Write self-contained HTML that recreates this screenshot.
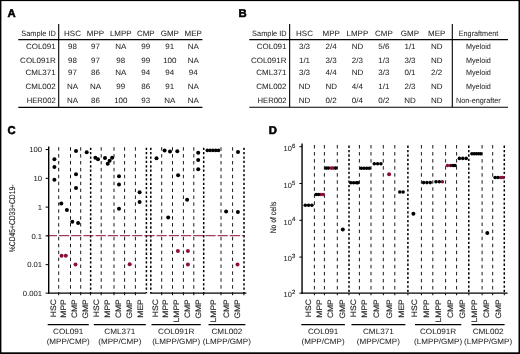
<!DOCTYPE html>
<html><head><meta charset="utf-8"><title>Figure</title>
<style>
html,body{margin:0;padding:0;background:#fff;}
body{width:520px;height:354px;overflow:hidden;position:relative;}
svg{position:absolute;left:0;top:0;display:block;}
svg text{font-family:"Liberation Sans",sans-serif;fill:#242424;stroke:#242424;stroke-width:0.03px;text-rendering:geometricPrecision;}
</style></head><body>
<svg width="520" height="354" viewBox="0 0 520 354">
<rect x="0" y="0" width="520" height="354" fill="#fff"/>
<text x="7.4" y="16.9" text-anchor="start" font-size="11.3" font-weight="bold" style="fill:#000;stroke:#000;stroke-width:0.55px;stroke-linejoin:round">A</text>
<text x="238.6" y="16.8" text-anchor="start" font-size="11.3" font-weight="bold" style="fill:#000;stroke:#000;stroke-width:0.55px;stroke-linejoin:round">B</text>
<text x="7.6" y="133.9" text-anchor="start" font-size="11.3" font-weight="bold" style="fill:#000;stroke:#000;stroke-width:0.55px;stroke-linejoin:round">C</text>
<text x="268.8" y="134.0" text-anchor="start" font-size="11.3" font-weight="bold" style="fill:#000;stroke:#000;stroke-width:0.55px;stroke-linejoin:round">D</text>
<line x1="18.3" y1="39.6" x2="202.4" y2="39.6" stroke="#000" stroke-width="1.1"/>
<line x1="18.3" y1="107.4" x2="202.4" y2="107.4" stroke="#000" stroke-width="1.1"/>
<line x1="58.7" y1="24" x2="58.7" y2="107.4" stroke="#000" stroke-width="1.1"/>
<text x="55.8" y="36.0" text-anchor="end" font-size="7.7" textLength="34.50" lengthAdjust="spacingAndGlyphs">Sample ID</text>
<text x="72.5" y="36.0" text-anchor="middle" font-size="7.7" textLength="16.89" lengthAdjust="spacingAndGlyphs">HSC</text>
<text x="95.5" y="36.0" text-anchor="middle" font-size="7.7" textLength="17.34" lengthAdjust="spacingAndGlyphs">MPP</text>
<text x="120.8" y="36.0" text-anchor="middle" font-size="7.7" textLength="21.79" lengthAdjust="spacingAndGlyphs">LMPP</text>
<text x="145.8" y="36.0" text-anchor="middle" font-size="7.7" textLength="17.78" lengthAdjust="spacingAndGlyphs">CMP</text>
<text x="169.8" y="36.0" text-anchor="middle" font-size="7.7" textLength="18.22" lengthAdjust="spacingAndGlyphs">GMP</text>
<text x="193.2" y="36.0" text-anchor="middle" font-size="7.7" textLength="17.34" lengthAdjust="spacingAndGlyphs">MEP</text>
<text x="55.7" y="48.9" text-anchor="end" font-size="7.7" textLength="29.80" lengthAdjust="spacingAndGlyphs">COL091</text>
<text x="72.5" y="48.9" text-anchor="middle" font-size="7.7" textLength="8.90" lengthAdjust="spacingAndGlyphs">98</text>
<text x="95.5" y="48.9" text-anchor="middle" font-size="7.7" textLength="8.90" lengthAdjust="spacingAndGlyphs">97</text>
<text x="120.8" y="48.9" text-anchor="middle" font-size="7.7" textLength="11.11" lengthAdjust="spacingAndGlyphs">NA</text>
<text x="145.8" y="48.9" text-anchor="middle" font-size="7.7" textLength="8.90" lengthAdjust="spacingAndGlyphs">99</text>
<text x="169.8" y="48.9" text-anchor="middle" font-size="7.7" textLength="8.90" lengthAdjust="spacingAndGlyphs">91</text>
<text x="193.2" y="48.9" text-anchor="middle" font-size="7.7" textLength="11.11" lengthAdjust="spacingAndGlyphs">NA</text>
<text x="55.7" y="62.7" text-anchor="end" font-size="7.7" textLength="35.57" lengthAdjust="spacingAndGlyphs">COL091R</text>
<text x="72.5" y="62.7" text-anchor="middle" font-size="7.7" textLength="8.90" lengthAdjust="spacingAndGlyphs">98</text>
<text x="95.5" y="62.7" text-anchor="middle" font-size="7.7" textLength="8.90" lengthAdjust="spacingAndGlyphs">97</text>
<text x="120.8" y="62.7" text-anchor="middle" font-size="7.7" textLength="8.90" lengthAdjust="spacingAndGlyphs">98</text>
<text x="145.8" y="62.7" text-anchor="middle" font-size="7.7" textLength="8.90" lengthAdjust="spacingAndGlyphs">99</text>
<text x="169.8" y="62.7" text-anchor="middle" font-size="7.7" textLength="13.35" lengthAdjust="spacingAndGlyphs">100</text>
<text x="193.2" y="62.7" text-anchor="middle" font-size="7.7" textLength="11.11" lengthAdjust="spacingAndGlyphs">NA</text>
<text x="55.7" y="74.9" text-anchor="end" font-size="7.7" textLength="30.24" lengthAdjust="spacingAndGlyphs">CML371</text>
<text x="72.5" y="74.9" text-anchor="middle" font-size="7.7" textLength="8.90" lengthAdjust="spacingAndGlyphs">97</text>
<text x="95.5" y="74.9" text-anchor="middle" font-size="7.7" textLength="8.90" lengthAdjust="spacingAndGlyphs">86</text>
<text x="120.8" y="74.9" text-anchor="middle" font-size="7.7" textLength="11.11" lengthAdjust="spacingAndGlyphs">NA</text>
<text x="145.8" y="74.9" text-anchor="middle" font-size="7.7" textLength="8.90" lengthAdjust="spacingAndGlyphs">94</text>
<text x="169.8" y="74.9" text-anchor="middle" font-size="7.7" textLength="8.90" lengthAdjust="spacingAndGlyphs">94</text>
<text x="193.2" y="74.9" text-anchor="middle" font-size="7.7" textLength="8.90" lengthAdjust="spacingAndGlyphs">94</text>
<text x="55.7" y="88.8" text-anchor="end" font-size="7.7" textLength="30.24" lengthAdjust="spacingAndGlyphs">CML002</text>
<text x="72.5" y="88.8" text-anchor="middle" font-size="7.7" textLength="11.11" lengthAdjust="spacingAndGlyphs">NA</text>
<text x="95.5" y="88.8" text-anchor="middle" font-size="7.7" textLength="11.11" lengthAdjust="spacingAndGlyphs">NA</text>
<text x="120.8" y="88.8" text-anchor="middle" font-size="7.7" textLength="8.90" lengthAdjust="spacingAndGlyphs">99</text>
<text x="145.8" y="88.8" text-anchor="middle" font-size="7.7" textLength="8.90" lengthAdjust="spacingAndGlyphs">86</text>
<text x="169.8" y="88.8" text-anchor="middle" font-size="7.7" textLength="8.90" lengthAdjust="spacingAndGlyphs">91</text>
<text x="193.2" y="88.8" text-anchor="middle" font-size="7.7" textLength="11.11" lengthAdjust="spacingAndGlyphs">NA</text>
<text x="55.7" y="102.7" text-anchor="end" font-size="7.7" textLength="29.03" lengthAdjust="spacingAndGlyphs">HER002</text>
<text x="72.5" y="102.7" text-anchor="middle" font-size="7.7" textLength="11.11" lengthAdjust="spacingAndGlyphs">NA</text>
<text x="95.5" y="102.7" text-anchor="middle" font-size="7.7" textLength="8.90" lengthAdjust="spacingAndGlyphs">86</text>
<text x="120.8" y="102.7" text-anchor="middle" font-size="7.7" textLength="13.35" lengthAdjust="spacingAndGlyphs">100</text>
<text x="145.8" y="102.7" text-anchor="middle" font-size="7.7" textLength="8.90" lengthAdjust="spacingAndGlyphs">93</text>
<text x="169.8" y="102.7" text-anchor="middle" font-size="7.7" textLength="11.11" lengthAdjust="spacingAndGlyphs">NA</text>
<text x="193.2" y="102.7" text-anchor="middle" font-size="7.7" textLength="11.11" lengthAdjust="spacingAndGlyphs">NA</text>
<line x1="249.3" y1="39.6" x2="508" y2="39.6" stroke="#000" stroke-width="1.1"/>
<line x1="249.3" y1="107.3" x2="508" y2="107.3" stroke="#000" stroke-width="1.1"/>
<line x1="289.65" y1="24" x2="289.65" y2="107.3" stroke="#000" stroke-width="1.1"/>
<line x1="452.3" y1="24" x2="452.3" y2="107.3" stroke="#000" stroke-width="1.1"/>
<text x="286.6" y="36.0" text-anchor="end" font-size="7.7" textLength="34.50" lengthAdjust="spacingAndGlyphs">Sample ID</text>
<text x="304.5" y="36.0" text-anchor="middle" font-size="7.7" textLength="16.89" lengthAdjust="spacingAndGlyphs">HSC</text>
<text x="331.2" y="36.0" text-anchor="middle" font-size="7.7" textLength="17.34" lengthAdjust="spacingAndGlyphs">MPP</text>
<text x="357.4" y="36.0" text-anchor="middle" font-size="7.7" textLength="21.79" lengthAdjust="spacingAndGlyphs">LMPP</text>
<text x="383.9" y="36.0" text-anchor="middle" font-size="7.7" textLength="17.78" lengthAdjust="spacingAndGlyphs">CMP</text>
<text x="410.0" y="36.0" text-anchor="middle" font-size="7.7" textLength="18.22" lengthAdjust="spacingAndGlyphs">GMP</text>
<text x="436.7" y="36.0" text-anchor="middle" font-size="7.7" textLength="17.34" lengthAdjust="spacingAndGlyphs">MEP</text>
<text x="478.5" y="36.0" text-anchor="middle" font-size="7.7" textLength="39.44" lengthAdjust="spacingAndGlyphs">Engraftment</text>
<text x="286.5" y="48.9" text-anchor="end" font-size="7.7" textLength="29.80" lengthAdjust="spacingAndGlyphs">COL091</text>
<text x="304.5" y="48.9" text-anchor="middle" font-size="7.7" textLength="11.12" lengthAdjust="spacingAndGlyphs">3/3</text>
<text x="331.2" y="48.9" text-anchor="middle" font-size="7.7" textLength="11.12" lengthAdjust="spacingAndGlyphs">2/4</text>
<text x="357.4" y="48.9" text-anchor="middle" font-size="7.7" textLength="11.55" lengthAdjust="spacingAndGlyphs">ND</text>
<text x="383.9" y="48.9" text-anchor="middle" font-size="7.7" textLength="11.12" lengthAdjust="spacingAndGlyphs">5/6</text>
<text x="410.0" y="48.9" text-anchor="middle" font-size="7.7" textLength="11.12" lengthAdjust="spacingAndGlyphs">1/1</text>
<text x="436.7" y="48.9" text-anchor="middle" font-size="7.7" textLength="11.55" lengthAdjust="spacingAndGlyphs">ND</text>
<text x="478.4" y="48.9" text-anchor="middle" font-size="7.7" textLength="24.95" lengthAdjust="spacingAndGlyphs">Myeloid</text>
<text x="286.5" y="62.7" text-anchor="end" font-size="7.7" textLength="35.57" lengthAdjust="spacingAndGlyphs">COL091R</text>
<text x="304.5" y="62.7" text-anchor="middle" font-size="7.7" textLength="11.12" lengthAdjust="spacingAndGlyphs">1/1</text>
<text x="331.2" y="62.7" text-anchor="middle" font-size="7.7" textLength="11.12" lengthAdjust="spacingAndGlyphs">3/3</text>
<text x="357.4" y="62.7" text-anchor="middle" font-size="7.7" textLength="11.12" lengthAdjust="spacingAndGlyphs">2/3</text>
<text x="383.9" y="62.7" text-anchor="middle" font-size="7.7" textLength="11.12" lengthAdjust="spacingAndGlyphs">1/3</text>
<text x="410.0" y="62.7" text-anchor="middle" font-size="7.7" textLength="11.12" lengthAdjust="spacingAndGlyphs">3/3</text>
<text x="436.7" y="62.7" text-anchor="middle" font-size="7.7" textLength="11.55" lengthAdjust="spacingAndGlyphs">ND</text>
<text x="478.4" y="62.7" text-anchor="middle" font-size="7.7" textLength="24.95" lengthAdjust="spacingAndGlyphs">Myeloid</text>
<text x="286.5" y="74.9" text-anchor="end" font-size="7.7" textLength="30.24" lengthAdjust="spacingAndGlyphs">CML371</text>
<text x="304.5" y="74.9" text-anchor="middle" font-size="7.7" textLength="11.12" lengthAdjust="spacingAndGlyphs">3/3</text>
<text x="331.2" y="74.9" text-anchor="middle" font-size="7.7" textLength="11.12" lengthAdjust="spacingAndGlyphs">4/4</text>
<text x="357.4" y="74.9" text-anchor="middle" font-size="7.7" textLength="11.55" lengthAdjust="spacingAndGlyphs">ND</text>
<text x="383.9" y="74.9" text-anchor="middle" font-size="7.7" textLength="11.12" lengthAdjust="spacingAndGlyphs">3/3</text>
<text x="410.0" y="74.9" text-anchor="middle" font-size="7.7" textLength="11.12" lengthAdjust="spacingAndGlyphs">0/1</text>
<text x="436.7" y="74.9" text-anchor="middle" font-size="7.7" textLength="11.12" lengthAdjust="spacingAndGlyphs">2/2</text>
<text x="478.4" y="74.9" text-anchor="middle" font-size="7.7" textLength="24.95" lengthAdjust="spacingAndGlyphs">Myeloid</text>
<text x="286.5" y="88.8" text-anchor="end" font-size="7.7" textLength="30.24" lengthAdjust="spacingAndGlyphs">CML002</text>
<text x="304.5" y="88.8" text-anchor="middle" font-size="7.7" textLength="11.55" lengthAdjust="spacingAndGlyphs">ND</text>
<text x="331.2" y="88.8" text-anchor="middle" font-size="7.7" textLength="11.55" lengthAdjust="spacingAndGlyphs">ND</text>
<text x="357.4" y="88.8" text-anchor="middle" font-size="7.7" textLength="11.12" lengthAdjust="spacingAndGlyphs">4/4</text>
<text x="383.9" y="88.8" text-anchor="middle" font-size="7.7" textLength="11.12" lengthAdjust="spacingAndGlyphs">1/1</text>
<text x="410.0" y="88.8" text-anchor="middle" font-size="7.7" textLength="11.12" lengthAdjust="spacingAndGlyphs">2/3</text>
<text x="436.7" y="88.8" text-anchor="middle" font-size="7.7" textLength="11.55" lengthAdjust="spacingAndGlyphs">ND</text>
<text x="478.4" y="88.8" text-anchor="middle" font-size="7.7" textLength="24.95" lengthAdjust="spacingAndGlyphs">Myeloid</text>
<text x="286.5" y="102.7" text-anchor="end" font-size="7.7" textLength="29.03" lengthAdjust="spacingAndGlyphs">HER002</text>
<text x="304.5" y="102.7" text-anchor="middle" font-size="7.7" textLength="11.55" lengthAdjust="spacingAndGlyphs">ND</text>
<text x="331.2" y="102.7" text-anchor="middle" font-size="7.7" textLength="11.12" lengthAdjust="spacingAndGlyphs">0/2</text>
<text x="357.4" y="102.7" text-anchor="middle" font-size="7.7" textLength="11.12" lengthAdjust="spacingAndGlyphs">0/4</text>
<text x="383.9" y="102.7" text-anchor="middle" font-size="7.7" textLength="11.12" lengthAdjust="spacingAndGlyphs">0/2</text>
<text x="410.0" y="102.7" text-anchor="middle" font-size="7.7" textLength="11.55" lengthAdjust="spacingAndGlyphs">ND</text>
<text x="436.7" y="102.7" text-anchor="middle" font-size="7.7" textLength="11.55" lengthAdjust="spacingAndGlyphs">ND</text>
<text x="478.4" y="102.7" text-anchor="middle" font-size="7.7" textLength="44.67" lengthAdjust="spacingAndGlyphs">Non-engrafter</text>
<line x1="58.7" y1="147.2" x2="58.7" y2="293.15" stroke="#000" stroke-width="0.9" stroke-dasharray="3.45 3.45"/>
<line x1="70.5" y1="147.2" x2="70.5" y2="293.15" stroke="#000" stroke-width="0.9" stroke-dasharray="3.45 3.45"/>
<line x1="80.7" y1="147.2" x2="80.7" y2="293.15" stroke="#000" stroke-width="0.9" stroke-dasharray="3.45 3.45"/>
<line x1="101.2" y1="147.2" x2="101.2" y2="293.15" stroke="#000" stroke-width="0.9" stroke-dasharray="3.45 3.45"/>
<line x1="114.0" y1="147.2" x2="114.0" y2="293.15" stroke="#000" stroke-width="0.9" stroke-dasharray="3.45 3.45"/>
<line x1="124.6" y1="147.2" x2="124.6" y2="293.15" stroke="#000" stroke-width="0.9" stroke-dasharray="3.45 3.45"/>
<line x1="135.4" y1="147.2" x2="135.4" y2="293.15" stroke="#000" stroke-width="0.9" stroke-dasharray="3.45 3.45"/>
<line x1="161.7" y1="147.2" x2="161.7" y2="293.15" stroke="#000" stroke-width="0.9" stroke-dasharray="3.45 3.45"/>
<line x1="172.5" y1="147.2" x2="172.5" y2="293.15" stroke="#000" stroke-width="0.9" stroke-dasharray="3.45 3.45"/>
<line x1="183.4" y1="147.2" x2="183.4" y2="293.15" stroke="#000" stroke-width="0.9" stroke-dasharray="3.45 3.45"/>
<line x1="193.8" y1="147.2" x2="193.8" y2="293.15" stroke="#000" stroke-width="0.9" stroke-dasharray="3.45 3.45"/>
<line x1="221.0" y1="147.2" x2="221.0" y2="293.15" stroke="#000" stroke-width="0.9" stroke-dasharray="3.45 3.45"/>
<line x1="232.6" y1="147.2" x2="232.6" y2="293.15" stroke="#000" stroke-width="0.9" stroke-dasharray="3.45 3.45"/>
<line x1="90.65" y1="147.7" x2="90.65" y2="293.15" stroke="#000" stroke-width="1.5" stroke-dasharray="2.3 2.07"/>
<line x1="146.4" y1="147.7" x2="146.4" y2="293.15" stroke="#000" stroke-width="1.5" stroke-dasharray="2.3 2.07"/>
<line x1="150.8" y1="147.7" x2="150.8" y2="293.15" stroke="#000" stroke-width="1.5" stroke-dasharray="2.3 2.07"/>
<line x1="203.7" y1="147.7" x2="203.7" y2="293.15" stroke="#000" stroke-width="1.5" stroke-dasharray="2.3 2.07"/>
<line x1="244.0" y1="147.7" x2="244.0" y2="293.15" stroke="#000" stroke-width="1.5" stroke-dasharray="2.3 2.07"/>
<line x1="46.8" y1="235.7" x2="244.7" y2="235.7" stroke="#8c0f35" stroke-width="1.0" stroke-dasharray="10.2 2.0"/>
<line x1="48.7" y1="146.6" x2="48.7" y2="293.84999999999997" stroke="#000" stroke-width="1.4"/>
<line x1="48.1" y1="293.15" x2="146.0" y2="293.15" stroke="#000" stroke-width="1.4"/>
<line x1="150.2" y1="293.15" x2="246.4" y2="293.15" stroke="#000" stroke-width="1.4"/>
<line x1="45.6" y1="149.55" x2="48.7" y2="149.55" stroke="#000" stroke-width="1.0"/>
<text x="42.1" y="152.25" text-anchor="end" font-size="7.4" textLength="12.81" lengthAdjust="spacingAndGlyphs">100</text>
<line x1="45.6" y1="178.33" x2="48.7" y2="178.33" stroke="#000" stroke-width="1.0"/>
<text x="42.1" y="181.03" text-anchor="end" font-size="7.4" textLength="8.54" lengthAdjust="spacingAndGlyphs">10</text>
<line x1="45.6" y1="207.11" x2="48.7" y2="207.11" stroke="#000" stroke-width="1.0"/>
<text x="42.1" y="209.81" text-anchor="end" font-size="7.4" textLength="4.27" lengthAdjust="spacingAndGlyphs">1</text>
<line x1="45.6" y1="235.89000000000001" x2="48.7" y2="235.89000000000001" stroke="#000" stroke-width="1.0"/>
<text x="42.1" y="238.59" text-anchor="end" font-size="7.4" textLength="10.68" lengthAdjust="spacingAndGlyphs">0.1</text>
<line x1="45.6" y1="264.67" x2="48.7" y2="264.67" stroke="#000" stroke-width="1.0"/>
<text x="42.1" y="267.37" text-anchor="end" font-size="7.4" textLength="14.95" lengthAdjust="spacingAndGlyphs">0.01</text>
<line x1="45.6" y1="293.15" x2="48.7" y2="293.15" stroke="#000" stroke-width="1.0"/>
<text x="42.1" y="295.84999999999997" text-anchor="end" font-size="7.4" textLength="19.22" lengthAdjust="spacingAndGlyphs">0.001</text>
<line x1="58.7" y1="293.15" x2="58.7" y2="295.25" stroke="#000" stroke-width="1.0"/>
<line x1="70.5" y1="293.15" x2="70.5" y2="295.25" stroke="#000" stroke-width="1.0"/>
<line x1="80.7" y1="293.15" x2="80.7" y2="295.25" stroke="#000" stroke-width="1.0"/>
<line x1="90.4" y1="293.15" x2="90.4" y2="295.25" stroke="#000" stroke-width="1.0"/>
<line x1="101.2" y1="293.15" x2="101.2" y2="295.25" stroke="#000" stroke-width="1.0"/>
<line x1="114.0" y1="293.15" x2="114.0" y2="295.25" stroke="#000" stroke-width="1.0"/>
<line x1="124.6" y1="293.15" x2="124.6" y2="295.25" stroke="#000" stroke-width="1.0"/>
<line x1="135.4" y1="293.15" x2="135.4" y2="295.25" stroke="#000" stroke-width="1.0"/>
<line x1="161.7" y1="293.15" x2="161.7" y2="295.25" stroke="#000" stroke-width="1.0"/>
<line x1="172.5" y1="293.15" x2="172.5" y2="295.25" stroke="#000" stroke-width="1.0"/>
<line x1="183.4" y1="293.15" x2="183.4" y2="295.25" stroke="#000" stroke-width="1.0"/>
<line x1="193.8" y1="293.15" x2="193.8" y2="295.25" stroke="#000" stroke-width="1.0"/>
<line x1="203.6" y1="293.15" x2="203.6" y2="295.25" stroke="#000" stroke-width="1.0"/>
<line x1="221.0" y1="293.15" x2="221.0" y2="295.25" stroke="#000" stroke-width="1.0"/>
<line x1="232.6" y1="293.15" x2="232.6" y2="295.25" stroke="#000" stroke-width="1.0"/>
<line x1="243.9" y1="293.15" x2="243.9" y2="295.25" stroke="#000" stroke-width="1.0"/>
<text transform="translate(15.3,218.4) rotate(-90)" text-anchor="middle" font-size="8.3" style="stroke-width:0.12px" textLength="67.6" lengthAdjust="spacingAndGlyphs">%CD45+CD33+CD19-</text>
<text transform="translate(55.75,299.2) rotate(-90)" text-anchor="end" font-size="7.9" style="stroke-width:0.15px" textLength="17.99" lengthAdjust="spacingAndGlyphs">HSC</text>
<text transform="translate(66.35,299.2) rotate(-90)" text-anchor="end" font-size="7.9" style="stroke-width:0.15px" textLength="18.46" lengthAdjust="spacingAndGlyphs">MPP</text>
<text transform="translate(77.44999999999999,299.2) rotate(-90)" text-anchor="end" font-size="7.9" style="stroke-width:0.15px" textLength="18.93" lengthAdjust="spacingAndGlyphs">CMP</text>
<text transform="translate(88.44999999999999,299.2) rotate(-90)" text-anchor="end" font-size="7.9" style="stroke-width:0.15px" textLength="19.41" lengthAdjust="spacingAndGlyphs">GMP</text>
<text transform="translate(98.64999999999999,299.2) rotate(-90)" text-anchor="end" font-size="7.9" style="stroke-width:0.15px" textLength="17.99" lengthAdjust="spacingAndGlyphs">HSC</text>
<text transform="translate(109.55,299.2) rotate(-90)" text-anchor="end" font-size="7.9" style="stroke-width:0.15px" textLength="18.46" lengthAdjust="spacingAndGlyphs">MPP</text>
<text transform="translate(121.35,299.2) rotate(-90)" text-anchor="end" font-size="7.9" style="stroke-width:0.15px" textLength="18.93" lengthAdjust="spacingAndGlyphs">CMP</text>
<text transform="translate(132.25,299.2) rotate(-90)" text-anchor="end" font-size="7.9" style="stroke-width:0.15px" textLength="19.41" lengthAdjust="spacingAndGlyphs">GMP</text>
<text transform="translate(143.25,299.2) rotate(-90)" text-anchor="end" font-size="7.9" style="stroke-width:0.15px" textLength="18.46" lengthAdjust="spacingAndGlyphs">MEP</text>
<text transform="translate(157.65,299.2) rotate(-90)" text-anchor="end" font-size="7.9" style="stroke-width:0.15px" textLength="17.99" lengthAdjust="spacingAndGlyphs">HSC</text>
<text transform="translate(167.85,299.2) rotate(-90)" text-anchor="end" font-size="7.9" style="stroke-width:0.15px" textLength="18.46" lengthAdjust="spacingAndGlyphs">MPP</text>
<text transform="translate(178.75,299.2) rotate(-90)" text-anchor="end" font-size="7.9" style="stroke-width:0.15px" textLength="23.20" lengthAdjust="spacingAndGlyphs">LMPP</text>
<text transform="translate(189.54999999999998,299.2) rotate(-90)" text-anchor="end" font-size="7.9" style="stroke-width:0.15px" textLength="18.93" lengthAdjust="spacingAndGlyphs">CMP</text>
<text transform="translate(200.75,299.2) rotate(-90)" text-anchor="end" font-size="7.9" style="stroke-width:0.15px" textLength="19.41" lengthAdjust="spacingAndGlyphs">GMP</text>
<text transform="translate(216.15,299.2) rotate(-90)" text-anchor="end" font-size="7.9" style="stroke-width:0.15px" textLength="23.20" lengthAdjust="spacingAndGlyphs">LMPP</text>
<text transform="translate(228.65,299.2) rotate(-90)" text-anchor="end" font-size="7.9" style="stroke-width:0.15px" textLength="18.93" lengthAdjust="spacingAndGlyphs">CMP</text>
<text transform="translate(240.15,299.2) rotate(-90)" text-anchor="end" font-size="7.9" style="stroke-width:0.15px" textLength="19.41" lengthAdjust="spacingAndGlyphs">GMP</text>
<line x1="47.7" y1="324.6" x2="88.8" y2="324.6" stroke="#000" stroke-width="1.2"/>
<text x="68.2" y="334.3" text-anchor="middle" font-size="7.7" textLength="30.39" lengthAdjust="spacingAndGlyphs">COL091</text>
<text x="68.2" y="344.3" text-anchor="middle" font-size="7.7" textLength="43.09" lengthAdjust="spacingAndGlyphs">(MPP/CMP)</text>
<line x1="93.8" y1="324.6" x2="145.8" y2="324.6" stroke="#000" stroke-width="1.2"/>
<text x="119.8" y="334.3" text-anchor="middle" font-size="7.7" textLength="30.84" lengthAdjust="spacingAndGlyphs">CML371</text>
<text x="119.8" y="344.3" text-anchor="middle" font-size="7.7" textLength="43.09" lengthAdjust="spacingAndGlyphs">(MPP/CMP)</text>
<line x1="151.5" y1="324.6" x2="200.8" y2="324.6" stroke="#000" stroke-width="1.2"/>
<text x="176.2" y="334.3" text-anchor="middle" font-size="7.7" textLength="36.28" lengthAdjust="spacingAndGlyphs">COL091R</text>
<text x="176.2" y="344.3" text-anchor="middle" font-size="7.7" textLength="48.03" lengthAdjust="spacingAndGlyphs">(LMPP/GMP)</text>
<line x1="208.5" y1="324.6" x2="245.4" y2="324.6" stroke="#000" stroke-width="1.2"/>
<text x="226.9" y="334.3" text-anchor="middle" font-size="7.7" textLength="30.84" lengthAdjust="spacingAndGlyphs">CML002</text>
<text x="226.9" y="344.3" text-anchor="middle" font-size="7.7" textLength="48.03" lengthAdjust="spacingAndGlyphs">(LMPP/GMP)</text>
<circle cx="54.4" cy="159.2" r="2.0" fill="#000"/>
<circle cx="54.4" cy="167.1" r="2.0" fill="#000"/>
<circle cx="54.4" cy="179.8" r="2.0" fill="#000"/>
<circle cx="61.3" cy="203.5" r="2.0" fill="#000"/>
<circle cx="66.9" cy="210.0" r="2.0" fill="#000"/>
<circle cx="72.3" cy="221.7" r="2.0" fill="#000"/>
<circle cx="78.1" cy="223.1" r="2.0" fill="#000"/>
<circle cx="76.0" cy="151.0" r="2.0" fill="#000"/>
<circle cx="76.0" cy="174.2" r="2.0" fill="#000"/>
<circle cx="76.0" cy="188.0" r="2.0" fill="#000"/>
<circle cx="86.7" cy="152.3" r="2.0" fill="#000"/>
<circle cx="95.4" cy="157.7" r="2.0" fill="#000"/>
<circle cx="98.0" cy="159.2" r="2.0" fill="#000"/>
<circle cx="105.0" cy="157.9" r="2.0" fill="#000"/>
<circle cx="107.7" cy="163.7" r="2.0" fill="#000"/>
<circle cx="109.6" cy="160.8" r="2.0" fill="#000"/>
<circle cx="112.1" cy="157.7" r="2.0" fill="#000"/>
<circle cx="119.0" cy="176.2" r="2.0" fill="#000"/>
<circle cx="119.0" cy="184.6" r="2.0" fill="#000"/>
<circle cx="119.0" cy="208.7" r="2.0" fill="#000"/>
<circle cx="139.6" cy="192.3" r="2.0" fill="#000"/>
<circle cx="139.6" cy="202.0" r="2.0" fill="#000"/>
<circle cx="156.5" cy="158.3" r="2.0" fill="#000"/>
<circle cx="164.6" cy="150.6" r="2.0" fill="#000"/>
<circle cx="170.0" cy="151.5" r="2.0" fill="#000"/>
<circle cx="177.3" cy="151.2" r="2.0" fill="#000"/>
<circle cx="178.1" cy="175.2" r="2.0" fill="#000"/>
<circle cx="168.2" cy="217.4" r="2.0" fill="#000"/>
<circle cx="187.1" cy="199.8" r="2.0" fill="#000"/>
<circle cx="198.2" cy="152.7" r="2.0" fill="#000"/>
<circle cx="198.2" cy="159.9" r="2.0" fill="#000"/>
<circle cx="198.2" cy="169.3" r="2.0" fill="#000"/>
<circle cx="226.1" cy="211.6" r="2.0" fill="#000"/>
<circle cx="237.9" cy="212.0" r="2.0" fill="#000"/>
<circle cx="238.0" cy="152.0" r="2.0" fill="#000"/>
<circle cx="207.3" cy="150.4" r="1.8" fill="#000"/>
<circle cx="210.1" cy="150.4" r="1.8" fill="#000"/>
<circle cx="212.9" cy="150.4" r="1.8" fill="#000"/>
<circle cx="215.7" cy="150.4" r="1.8" fill="#000"/>
<circle cx="218.5" cy="150.4" r="1.8" fill="#000"/>
<circle cx="61.6" cy="255.7" r="2.0" fill="#8c0f35"/>
<circle cx="65.8" cy="255.7" r="2.0" fill="#8c0f35"/>
<circle cx="75.5" cy="264.4" r="2.0" fill="#8c0f35"/>
<circle cx="129.7" cy="264.3" r="2.0" fill="#8c0f35"/>
<circle cx="177.9" cy="251.0" r="2.0" fill="#8c0f35"/>
<circle cx="187.9" cy="251.0" r="2.0" fill="#8c0f35"/>
<circle cx="187.9" cy="264.4" r="2.0" fill="#8c0f35"/>
<circle cx="237.5" cy="264.4" r="2.0" fill="#8c0f35"/>
<line x1="314.4" y1="145.0" x2="314.4" y2="293.15" stroke="#000" stroke-width="0.9" stroke-dasharray="3.5 3.55"/>
<line x1="324.4" y1="145.0" x2="324.4" y2="293.15" stroke="#000" stroke-width="0.9" stroke-dasharray="3.5 3.55"/>
<line x1="337.3" y1="145.0" x2="337.3" y2="293.15" stroke="#000" stroke-width="0.9" stroke-dasharray="3.5 3.55"/>
<line x1="359.4" y1="145.0" x2="359.4" y2="293.15" stroke="#000" stroke-width="0.9" stroke-dasharray="3.5 3.55"/>
<line x1="371.0" y1="145.0" x2="371.0" y2="293.15" stroke="#000" stroke-width="0.9" stroke-dasharray="3.5 3.55"/>
<line x1="383.3" y1="145.0" x2="383.3" y2="293.15" stroke="#000" stroke-width="0.9" stroke-dasharray="3.5 3.55"/>
<line x1="394.8" y1="145.0" x2="394.8" y2="293.15" stroke="#000" stroke-width="0.9" stroke-dasharray="3.5 3.55"/>
<line x1="421.4" y1="145.0" x2="421.4" y2="293.15" stroke="#000" stroke-width="0.9" stroke-dasharray="3.5 3.55"/>
<line x1="432.8" y1="145.0" x2="432.8" y2="293.15" stroke="#000" stroke-width="0.9" stroke-dasharray="3.5 3.55"/>
<line x1="445.6" y1="145.0" x2="445.6" y2="293.15" stroke="#000" stroke-width="0.9" stroke-dasharray="3.5 3.55"/>
<line x1="456.6" y1="145.0" x2="456.6" y2="293.15" stroke="#000" stroke-width="0.9" stroke-dasharray="3.5 3.55"/>
<line x1="482.1" y1="145.0" x2="482.1" y2="293.15" stroke="#000" stroke-width="0.9" stroke-dasharray="3.5 3.55"/>
<line x1="492.7" y1="145.0" x2="492.7" y2="293.15" stroke="#000" stroke-width="0.9" stroke-dasharray="3.5 3.55"/>
<line x1="349.0" y1="145.6" x2="349.0" y2="293.15" stroke="#000" stroke-width="1.5" stroke-dasharray="2.3 2.07"/>
<line x1="407.9" y1="145.6" x2="407.9" y2="293.15" stroke="#000" stroke-width="1.5" stroke-dasharray="2.3 2.07"/>
<line x1="468.8" y1="145.6" x2="468.8" y2="293.15" stroke="#000" stroke-width="1.5" stroke-dasharray="2.3 2.07"/>
<line x1="504.3" y1="145.6" x2="504.3" y2="293.15" stroke="#000" stroke-width="1.5" stroke-dasharray="2.3 2.07"/>
<line x1="302.05" y1="143.5" x2="302.05" y2="293.84999999999997" stroke="#000" stroke-width="1.4"/>
<line x1="301.45" y1="293.15" x2="507.6" y2="293.15" stroke="#000" stroke-width="1.4"/>
<line x1="299.4" y1="146.7" x2="302.05" y2="146.7" stroke="#000" stroke-width="1.0"/>
<text x="291.8" y="151.0" text-anchor="end" font-size="7.4" textLength="8.3" lengthAdjust="spacingAndGlyphs">10</text>
<text x="291.9" y="147.8" text-anchor="start" font-size="6.0" style="stroke-width:0.15px">6</text>
<line x1="299.4" y1="183.5" x2="302.05" y2="183.5" stroke="#000" stroke-width="1.0"/>
<text x="291.8" y="187.8" text-anchor="end" font-size="7.4" textLength="8.3" lengthAdjust="spacingAndGlyphs">10</text>
<text x="291.9" y="184.6" text-anchor="start" font-size="6.0" style="stroke-width:0.15px">5</text>
<line x1="299.4" y1="220.29999999999998" x2="302.05" y2="220.29999999999998" stroke="#000" stroke-width="1.0"/>
<text x="291.8" y="224.6" text-anchor="end" font-size="7.4" textLength="8.3" lengthAdjust="spacingAndGlyphs">10</text>
<text x="291.9" y="221.4" text-anchor="start" font-size="6.0" style="stroke-width:0.15px">4</text>
<line x1="299.4" y1="257.09999999999997" x2="302.05" y2="257.09999999999997" stroke="#000" stroke-width="1.0"/>
<text x="291.8" y="261.4" text-anchor="end" font-size="7.4" textLength="8.3" lengthAdjust="spacingAndGlyphs">10</text>
<text x="291.9" y="258.2" text-anchor="start" font-size="6.0" style="stroke-width:0.15px">3</text>
<line x1="299.4" y1="293.15" x2="302.05" y2="293.15" stroke="#000" stroke-width="1.0"/>
<text x="291.8" y="297.4" text-anchor="end" font-size="7.4" textLength="8.3" lengthAdjust="spacingAndGlyphs">10</text>
<text x="291.9" y="294.2" text-anchor="start" font-size="6.0" style="stroke-width:0.15px">2</text>
<line x1="314.4" y1="293.15" x2="314.4" y2="295.25" stroke="#000" stroke-width="1.0"/>
<line x1="324.4" y1="293.15" x2="324.4" y2="295.25" stroke="#000" stroke-width="1.0"/>
<line x1="337.3" y1="293.15" x2="337.3" y2="295.25" stroke="#000" stroke-width="1.0"/>
<line x1="349.0" y1="293.15" x2="349.0" y2="295.25" stroke="#000" stroke-width="1.0"/>
<line x1="359.4" y1="293.15" x2="359.4" y2="295.25" stroke="#000" stroke-width="1.0"/>
<line x1="371.0" y1="293.15" x2="371.0" y2="295.25" stroke="#000" stroke-width="1.0"/>
<line x1="383.3" y1="293.15" x2="383.3" y2="295.25" stroke="#000" stroke-width="1.0"/>
<line x1="394.8" y1="293.15" x2="394.8" y2="295.25" stroke="#000" stroke-width="1.0"/>
<line x1="407.9" y1="293.15" x2="407.9" y2="295.25" stroke="#000" stroke-width="1.0"/>
<line x1="421.4" y1="293.15" x2="421.4" y2="295.25" stroke="#000" stroke-width="1.0"/>
<line x1="432.8" y1="293.15" x2="432.8" y2="295.25" stroke="#000" stroke-width="1.0"/>
<line x1="445.6" y1="293.15" x2="445.6" y2="295.25" stroke="#000" stroke-width="1.0"/>
<line x1="456.6" y1="293.15" x2="456.6" y2="295.25" stroke="#000" stroke-width="1.0"/>
<line x1="468.8" y1="293.15" x2="468.8" y2="295.25" stroke="#000" stroke-width="1.0"/>
<line x1="482.1" y1="293.15" x2="482.1" y2="295.25" stroke="#000" stroke-width="1.0"/>
<line x1="492.7" y1="293.15" x2="492.7" y2="295.25" stroke="#000" stroke-width="1.0"/>
<line x1="504.3" y1="293.15" x2="504.3" y2="295.25" stroke="#000" stroke-width="1.0"/>
<text transform="translate(275.9,217.5) rotate(-90)" text-anchor="middle" font-size="8.3" style="stroke-width:0.12px" textLength="31.6" lengthAdjust="spacingAndGlyphs">No of cells</text>
<text transform="translate(310.95000000000005,299.2) rotate(-90)" text-anchor="end" font-size="7.9" style="stroke-width:0.15px" textLength="17.99" lengthAdjust="spacingAndGlyphs">HSC</text>
<text transform="translate(322.05,299.2) rotate(-90)" text-anchor="end" font-size="7.9" style="stroke-width:0.15px" textLength="18.46" lengthAdjust="spacingAndGlyphs">MPP</text>
<text transform="translate(333.45000000000005,299.2) rotate(-90)" text-anchor="end" font-size="7.9" style="stroke-width:0.15px" textLength="18.93" lengthAdjust="spacingAndGlyphs">CMP</text>
<text transform="translate(345.35,299.2) rotate(-90)" text-anchor="end" font-size="7.9" style="stroke-width:0.15px" textLength="19.41" lengthAdjust="spacingAndGlyphs">GMP</text>
<text transform="translate(356.25,299.2) rotate(-90)" text-anchor="end" font-size="7.9" style="stroke-width:0.15px" textLength="17.99" lengthAdjust="spacingAndGlyphs">HSC</text>
<text transform="translate(367.45000000000005,299.2) rotate(-90)" text-anchor="end" font-size="7.9" style="stroke-width:0.15px" textLength="18.46" lengthAdjust="spacingAndGlyphs">MPP</text>
<text transform="translate(379.35,299.2) rotate(-90)" text-anchor="end" font-size="7.9" style="stroke-width:0.15px" textLength="18.93" lengthAdjust="spacingAndGlyphs">CMP</text>
<text transform="translate(391.85,299.2) rotate(-90)" text-anchor="end" font-size="7.9" style="stroke-width:0.15px" textLength="19.41" lengthAdjust="spacingAndGlyphs">GMP</text>
<text transform="translate(404.05,299.2) rotate(-90)" text-anchor="end" font-size="7.9" style="stroke-width:0.15px" textLength="18.46" lengthAdjust="spacingAndGlyphs">MEP</text>
<text transform="translate(417.05,299.2) rotate(-90)" text-anchor="end" font-size="7.9" style="stroke-width:0.15px" textLength="17.99" lengthAdjust="spacingAndGlyphs">HSC</text>
<text transform="translate(429.35,299.2) rotate(-90)" text-anchor="end" font-size="7.9" style="stroke-width:0.15px" textLength="18.46" lengthAdjust="spacingAndGlyphs">MPP</text>
<text transform="translate(440.65000000000003,299.2) rotate(-90)" text-anchor="end" font-size="7.9" style="stroke-width:0.15px" textLength="23.20" lengthAdjust="spacingAndGlyphs">LMPP</text>
<text transform="translate(453.25,299.2) rotate(-90)" text-anchor="end" font-size="7.9" style="stroke-width:0.15px" textLength="18.93" lengthAdjust="spacingAndGlyphs">CMP</text>
<text transform="translate(464.75,299.2) rotate(-90)" text-anchor="end" font-size="7.9" style="stroke-width:0.15px" textLength="19.41" lengthAdjust="spacingAndGlyphs">GMP</text>
<text transform="translate(477.25,299.2) rotate(-90)" text-anchor="end" font-size="7.9" style="stroke-width:0.15px" textLength="23.20" lengthAdjust="spacingAndGlyphs">LMPP</text>
<text transform="translate(489.15000000000003,299.2) rotate(-90)" text-anchor="end" font-size="7.9" style="stroke-width:0.15px" textLength="18.93" lengthAdjust="spacingAndGlyphs">CMP</text>
<text transform="translate(501.35,299.2) rotate(-90)" text-anchor="end" font-size="7.9" style="stroke-width:0.15px" textLength="19.41" lengthAdjust="spacingAndGlyphs">GMP</text>
<line x1="301.3" y1="324.6" x2="344.9" y2="324.6" stroke="#000" stroke-width="1.2"/>
<text x="323.1" y="334.3" text-anchor="middle" font-size="7.7" textLength="30.39" lengthAdjust="spacingAndGlyphs">COL091</text>
<text x="323.1" y="344.3" text-anchor="middle" font-size="7.7" textLength="43.09" lengthAdjust="spacingAndGlyphs">(MPP/CMP)</text>
<line x1="351.5" y1="324.6" x2="405.4" y2="324.6" stroke="#000" stroke-width="1.2"/>
<text x="378.4" y="334.3" text-anchor="middle" font-size="7.7" textLength="30.84" lengthAdjust="spacingAndGlyphs">CML371</text>
<text x="378.4" y="344.3" text-anchor="middle" font-size="7.7" textLength="43.09" lengthAdjust="spacingAndGlyphs">(MPP/CMP)</text>
<line x1="415.0" y1="324.6" x2="461.3" y2="324.6" stroke="#000" stroke-width="1.2"/>
<text x="438.1" y="334.3" text-anchor="middle" font-size="7.7" textLength="36.28" lengthAdjust="spacingAndGlyphs">COL091R</text>
<text x="438.1" y="344.3" text-anchor="middle" font-size="7.7" textLength="48.03" lengthAdjust="spacingAndGlyphs">(LMPP/GMP)</text>
<line x1="471.5" y1="324.6" x2="504.6" y2="324.6" stroke="#000" stroke-width="1.2"/>
<text x="488.1" y="334.3" text-anchor="middle" font-size="7.7" textLength="30.84" lengthAdjust="spacingAndGlyphs">CML002</text>
<text x="488.1" y="344.3" text-anchor="middle" font-size="7.7" textLength="48.03" lengthAdjust="spacingAndGlyphs">(LMPP/GMP)</text>
<circle cx="305.3" cy="205.2" r="1.8" fill="#000"/>
<circle cx="308.6" cy="205.2" r="1.8" fill="#000"/>
<circle cx="311.9" cy="205.2" r="1.8" fill="#000"/>
<circle cx="320.9" cy="194.5" r="1.8" fill="#8c0f35"/>
<circle cx="323.3" cy="194.5" r="1.8" fill="#8c0f35"/>
<circle cx="316.1" cy="194.5" r="1.8" fill="#000"/>
<circle cx="318.5" cy="194.5" r="1.8" fill="#000"/>
<circle cx="331.3" cy="168.1" r="1.8" fill="#8c0f35"/>
<circle cx="333.4" cy="168.1" r="1.8" fill="#8c0f35"/>
<circle cx="326.1" cy="168.1" r="1.8" fill="#000"/>
<circle cx="328.4" cy="168.1" r="1.8" fill="#000"/>
<circle cx="335.6" cy="168.1" r="1.8" fill="#000"/>
<circle cx="342.8" cy="229.6" r="2.0" fill="#000"/>
<circle cx="350.8" cy="182.7" r="1.8" fill="#000"/>
<circle cx="353.6" cy="182.7" r="1.8" fill="#000"/>
<circle cx="356.4" cy="182.7" r="1.8" fill="#000"/>
<circle cx="357.8" cy="182.7" r="1.8" fill="#000"/>
<circle cx="361.3" cy="168.2" r="1.8" fill="#000"/>
<circle cx="364.0" cy="168.2" r="1.8" fill="#000"/>
<circle cx="366.7" cy="168.2" r="1.8" fill="#000"/>
<circle cx="369.3" cy="168.2" r="1.8" fill="#000"/>
<circle cx="374.3" cy="163.8" r="1.8" fill="#000"/>
<circle cx="377.6" cy="163.8" r="1.8" fill="#000"/>
<circle cx="380.9" cy="163.8" r="1.8" fill="#000"/>
<circle cx="389.1" cy="174.3" r="2.0" fill="#8c0f35"/>
<circle cx="399.8" cy="192.0" r="1.8" fill="#000"/>
<circle cx="403.1" cy="192.0" r="1.8" fill="#000"/>
<circle cx="413.4" cy="213.7" r="2.0" fill="#000"/>
<circle cx="423.6" cy="182.6" r="1.8" fill="#000"/>
<circle cx="426.9" cy="182.6" r="1.8" fill="#000"/>
<circle cx="430.2" cy="182.6" r="1.8" fill="#000"/>
<circle cx="442.4" cy="181.7" r="1.8" fill="#8c0f35"/>
<circle cx="436.0" cy="181.7" r="1.8" fill="#000"/>
<circle cx="439.3" cy="181.7" r="1.8" fill="#000"/>
<circle cx="447.5" cy="165.5" r="1.8" fill="#8c0f35"/>
<circle cx="450.7" cy="165.5" r="1.8" fill="#4a0818"/>
<circle cx="453.2" cy="165.5" r="1.8" fill="#000"/>
<circle cx="455.0" cy="165.5" r="1.8" fill="#000"/>
<circle cx="459.4" cy="158.4" r="1.8" fill="#000"/>
<circle cx="462.8" cy="158.4" r="1.8" fill="#000"/>
<circle cx="466.2" cy="158.4" r="1.8" fill="#000"/>
<circle cx="471.9" cy="153.7" r="1.8" fill="#000"/>
<circle cx="474.1" cy="153.7" r="1.8" fill="#000"/>
<circle cx="476.3" cy="153.7" r="1.8" fill="#000"/>
<circle cx="478.5" cy="153.7" r="1.8" fill="#000"/>
<circle cx="480.6" cy="153.7" r="1.8" fill="#000"/>
<circle cx="487.3" cy="233.1" r="2.0" fill="#000"/>
<circle cx="500.8" cy="177.5" r="1.8" fill="#8c0f35"/>
<circle cx="502.9" cy="177.5" r="1.8" fill="#8c0f35"/>
<circle cx="495.1" cy="177.5" r="1.8" fill="#000"/>
<circle cx="497.9" cy="177.5" r="1.8" fill="#000"/>
<rect x="0" y="0" width="520" height="1.1" fill="#000"/>
<rect x="0" y="0" width="1.4" height="354" fill="#000"/>
<rect x="518.5" y="0" width="1.5" height="354" fill="#000"/>
<rect x="0" y="352.3" width="520" height="1.7" fill="#000"/>
</svg>
</body></html>
